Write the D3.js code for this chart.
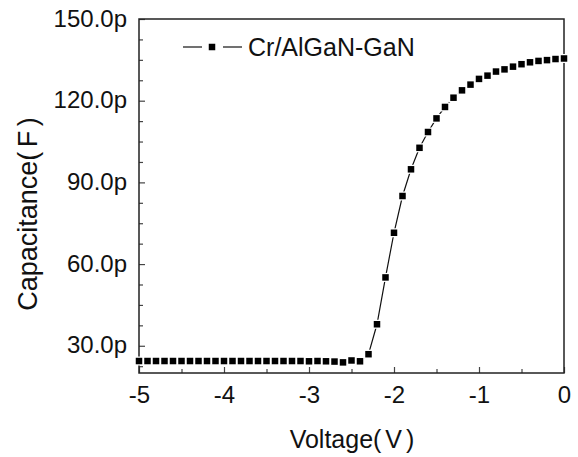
<!DOCTYPE html>
<html>
<head>
<meta charset="utf-8">
<script src="https://cdn.jsdelivr.net/npm/d3@7"></script>
<style>
  html, body { margin: 0; padding: 0; background: #fff; overflow: hidden; }
  svg { display: block; }
</style>
</head>
<body>
<svg id="chart" width="578" height="457"></svg>
<script>
var voltage = [-5.0, -4.9, -4.8, -4.7, -4.6, -4.5, -4.4, -4.3, -4.2, -4.1,
  -4.0, -3.9, -3.8, -3.7, -3.6, -3.5, -3.4, -3.3, -3.2, -3.1,
  -3.0, -2.9, -2.8, -2.7, -2.6, -2.5, -2.4, -2.3, -2.2, -2.1,
  -2.0, -1.9, -1.8, -1.7, -1.6, -1.5, -1.4, -1.3, -1.2, -1.1,
  -1.0, -0.9, -0.8, -0.7, -0.6, -0.5, -0.4, -0.3, -0.2, -0.1, 0.0];
var capacitance = [24.4, 24.4, 24.4, 24.4, 24.4, 24.4, 24.4, 24.4, 24.4, 24.4,
  24.4, 24.4, 24.4, 24.4, 24.4, 24.4, 24.4, 24.4, 24.4, 24.4,
  24.3, 24.4, 24.3, 24.2, 23.9, 24.6, 24.3, 26.9, 37.9, 55.1,
  71.5, 85.0, 94.8, 102.7, 108.5, 113.5, 117.7, 121.1, 123.8, 125.9,
  128.0, 129.2, 130.7, 131.5, 132.5, 133.4, 134.1, 134.6, 134.9, 135.3, 135.5];
var xTicks = [-5, -4, -3, -2, -1, 0];
var yTicks = [30, 60, 90, 120, 150];
var seriesName = 'Cr/AlGaN-GaN';

var font = "'Liberation Sans', Arial, sans-serif";
var svg = d3.select('#chart')
  .attr('font-family', font);
var borders = {
  left: 139,
  right: 14,
  top: 19,
  bottom: 84
};
var svgWidth = 578;
var svgHeight = 457;
var innerWidth = svgWidth - borders.left - borders.right;
var innerHeight = svgHeight - borders.top - borders.bottom;

var xScale = d3.scaleLinear()
  .domain([-5, 0])
  .range([0, innerWidth]);

var yScale = d3.scaleLinear()
  .domain([20, 150])
  .range([innerHeight, 0]);

var g = svg.append('g')
  .attr('transform', 'translate(' + borders.left + ',' + borders.top + ')');

// minor ticks
var xAxisMinor = d3.axisBottom(xScale)
  .tickValues(d3.range(-4.5, 0, 1))
  .tickSize(-4)
  .tickFormat('');

var yAxisMinor = d3.axisLeft(yScale)
  .tickValues([22.5, 37.5, 45, 52.5, 67.5, 75, 82.5, 97.5, 105, 112.5, 127.5, 135, 142.5])
  .tickSize(-4)
  .tickFormat('');

g.append('g')
  .attr('class', 'axis minor')
  .attr('transform', 'translate(0,' + innerHeight + ')')
  .call(xAxisMinor);

g.append('g')
  .attr('class', 'axis minor')
  .call(yAxisMinor);

g.selectAll('.axis.minor text').remove();

// major ticks
var xAxis = d3.axisBottom(xScale)
  .tickValues(xTicks)
  .tickSize(-6)
  .tickPadding(12)
  .tickFormat(function (d) {
    return d3.format('d')(d).replace('\u2212', '-');
  });

var yAxis = d3.axisLeft(yScale)
  .tickValues(yTicks)
  .tickSize(-6)
  .tickPadding(12)
  .tickFormat(function (d) {
    return d.toFixed(1) + 'p';
  });

g.append('g')
  .attr('class', 'axis x')
  .attr('transform', 'translate(0,' + innerHeight + ')')
  .call(xAxis)
  .attr('font-size', 24)
  .attr('font-family', font);

g.append('g')
  .attr('class', 'axis y')
  .call(yAxis)
  .attr('font-size', 24)
  .attr('font-family', font);

g.selectAll('.axis .domain').remove();
g.selectAll('.axis line')
  .attr('stroke', '#444')
  .attr('stroke-width', 1.2);

g.selectAll('.axis.x text')
  .attr('dy', '0.75em')
  .attr('fill', '#111');

g.selectAll('.axis.y text')
  .attr('dy', '0.3em')
  .attr('fill', '#111');

// frame
g.append('rect')
  .attr('x', 0)
  .attr('y', 0)
  .attr('width', innerWidth)
  .attr('height', innerHeight)
  .attr('fill', 'none')
  .attr('stroke', '#222')
  .attr('stroke-width', 1.5);

var data = voltage.map(function (v, i) {
  return { v: v, c: capacitance[i] };
});

var line = d3.line()
  .x(function (d) { return xScale(d.v); })
  .y(function (d) { return yScale(d.c); });

g.append('path')
  .datum(data)
  .attr('d', line)
  .attr('fill', 'none')
  .attr('stroke', '#111')
  .attr('stroke-width', 1.2);

var size = 6.5;
g.selectAll('rect.pt')
  .data(data)
  .enter()
  .append('rect')
  .attr('class', 'pt')
  .attr('x', function (d) { return xScale(d.v) - size / 2; })
  .attr('y', function (d) { return yScale(d.c) - size / 2; })
  .attr('width', size)
  .attr('height', size)
  .attr('fill', '#000')
  .attr('stroke', '#fff')
  .attr('stroke-width', 2.5)
  .attr('paint-order', 'stroke');

// legend
var leg = svg.append('g')
  .attr('transform', 'translate(183,47)');

leg.append('line')
  .attr('x1', 0).attr('x2', 19)
  .attr('stroke', '#111').attr('stroke-width', 1.2);

leg.append('line')
  .attr('x1', 40).attr('x2', 59)
  .attr('stroke', '#111').attr('stroke-width', 1.2);

leg.append('rect')
  .attr('x', 29 - size / 2)
  .attr('y', -size / 2)
  .attr('width', size)
  .attr('height', size)
  .attr('fill', '#000');

leg.append('text')
  .attr('x', 65)
  .attr('y', 0)
  .attr('dy', '0.36em')
  .attr('font-size', 25)
  .attr('fill', '#111')
  .text(seriesName);

// axis titles
svg.append('text')
  .attr('transform', 'translate(37,214) rotate(-90)')
  .attr('text-anchor', 'middle')
  .attr('font-size', 27)
  .attr('fill', '#111')
  .attr('word-spacing', '-3px')
  .text('Capacitance( F )');

svg.append('text')
  .attr('x', 352)
  .attr('y', 448)
  .attr('text-anchor', 'middle')
  .attr('font-size', 25)
  .attr('fill', '#111')
  .attr('word-spacing', '-3px')
  .text('Voltage( V )');
</script>
</body>
</html>
